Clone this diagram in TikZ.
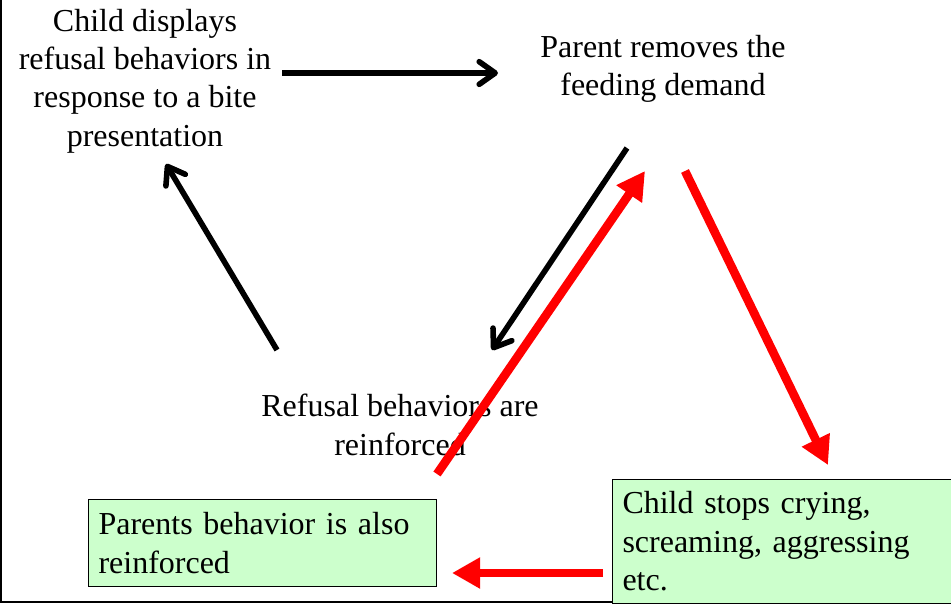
\documentclass[tikz,border=0pt]{standalone}
\usepackage{fontspec}
\setmainfont{Liberation Serif}
\usetikzlibrary{arrows.meta}
\definecolor{boxgreen}{HTML}{CCFFCC}
\begin{document}
\begin{tikzpicture}[x=0.75pt, y=-0.75pt,
  plain text/.style={align=center, inner sep=0pt, font=\fontsize{24}{28.8}\selectfont},
  green box/.style={draw=black, line width=0.75pt, fill=boxgreen, anchor=north west, align=left, inner xsep=7.5pt, inner ysep=0pt, font=\fontsize{24}{28.8}\selectfont},
  black arrow/.style={draw=black, line width=4.2pt, -{Straight Barb[length=12pt,width=17pt,round]}},
  red arrow/.style={draw=red, line width=6.5pt, -{Triangle[length=21pt,width=22pt]}}]
\useasboundingbox (0,0) rectangle (951,604);
% frame
\draw [line width=1.5pt] (1,0) -- (1,602) -- (951,602);
% texts
\node (child) at (145,81) [plain text] {Child displays\\refusal behaviors in\\response to a bite\\presentation};
\node (parent) at (663,69) [plain text] {Parent removes the\\feeding demand};
\node (refusal) at (400,425) [plain text] {Refusal behaviors are\\reinforced};
\node (parentsbox) at (88,499) [green box, text width=246pt, minimum height=65.25pt] {Parents behavior is also\\reinforced};
\node (stopsbox) at (612,479) [green box, text width=239.25pt, minimum height=93pt] {Child stops crying,\\screaming, aggressing\\etc.};
% arrow ends
\coordinate (childout) at (282,73);
\coordinate (parentin) at (498,73);
\coordinate (refusalout) at (277,350);
\coordinate (childin) at (166,164);
\coordinate (parentout) at (627,148);
\coordinate (refusalin) at (492,350);
\coordinate (parentsout) at (437,474);
\coordinate (parentsin) at (645,171);
\coordinate (stopsout) at (685,171);
\coordinate (stopsin) at (828,465);
\coordinate (leftout) at (603,573);
\coordinate (leftin) at (452,573);
% black loop
\draw [black arrow] (childout) -- (parentin);
\draw [black arrow] (parentout) -- (refusalin);
\draw [black arrow] (refusalout) -- (childin);
% red loop
\draw [red arrow] (stopsout) -- (stopsin);
\draw [red arrow] (leftout) -- (leftin);
\draw [red arrow] (parentsout) -- (parentsin);
\end{tikzpicture}
\end{document}
